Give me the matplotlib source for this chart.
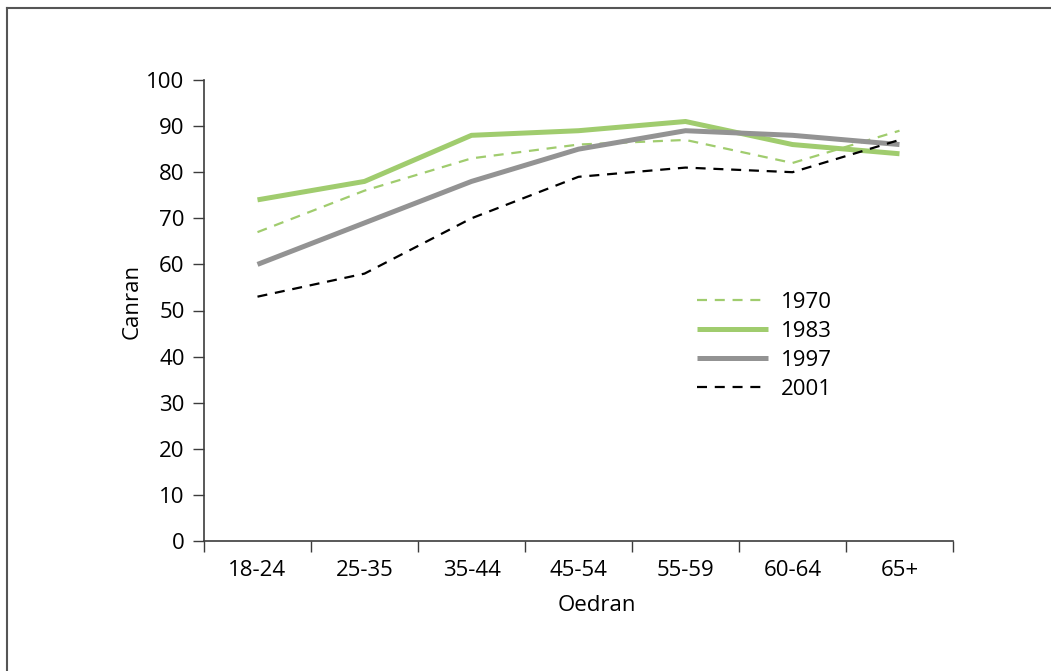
import matplotlib
matplotlib.use("Agg")
import matplotlib.pyplot as plt
from matplotlib.lines import Line2D

plt.rcParams["font.family"] = ["Open Sans", "DejaVu Sans"]

categories = ["18-24", "25-35", "35-44", "45-54", "55-59", "60-64", "65+"]
series_names = ["1970", "1983", "1997", "2001"]
values_1970 = [67, 76, 83, 86, 87, 82, 89]
values_1983 = [74, 78, 88, 89, 91, 86, 84]
values_1997 = [60, 69, 78, 85, 89, 88, 86]
values_2001 = [53, 58, 70, 79, 81, 80, 87]
y_ticks = list(range(0, 101, 10))

GREEN = "#a0cc6e"
GRAY = "#939393"
AXIS = "#3c3c3c"
FS = 16

fig = plt.figure(figsize=(10.51, 6.71), dpi=100)
ax = fig.add_axes([204 / 1051, 130 / 671, 749 / 1051, 461 / 671])

x = list(range(len(categories)))
ax.plot(x, values_1970, color=GREEN, lw=1.6, dashes=(4.5, 3.5), label=series_names[0])
ax.plot(x, values_1983, color=GREEN, lw=3.6, solid_capstyle="butt", label=series_names[1])
ax.plot(x, values_1997, color=GRAY, lw=3.6, solid_capstyle="butt", label=series_names[2])
ax.plot(x, values_2001, color="black", lw=1.6, dashes=(4.5, 3.5), label=series_names[3])

ax.set_xlim(-0.5, len(categories) - 0.5)
ax.set_ylim(0, 100)
ax.set_yticks(y_ticks)
ax.set_xticks(x)
ax.set_xticklabels(categories, fontsize=FS)
ax.set_xticks([i - 0.5 for i in range(len(categories) + 1)], minor=True)
ax.tick_params(axis="x", which="major", length=0, pad=14)
ax.tick_params(axis="x", which="minor", length=8, width=1, color=AXIS, direction="out")
ax.tick_params(axis="y", length=8, width=1, color=AXIS, direction="out", labelsize=FS, pad=6)

for side in ("top", "right"):
    ax.spines[side].set_visible(False)
for side in ("left", "bottom"):
    ax.spines[side].set_color(AXIS)
    ax.spines[side].set_linewidth(1.2)

ax.set_xlabel("Oedran", fontsize=FS)
ax.set_ylabel("Canran", fontsize=FS)
ax.xaxis.set_label_coords(0.525, -0.117)
ax.yaxis.set_label_coords(-0.082, 0.52)

ax.legend(loc="upper left", bbox_to_anchor=(0.658, 0.541), frameon=False,
          fontsize=FS, handlelength=3.2, handletextpad=0.6, labelspacing=0.37,
          borderpad=0, borderaxespad=0)

# outer frame (top and left edges only visible)
fig.add_artist(Line2D([7 / 1051, 7 / 1051], [0, 1 - 8 / 671], color="#555555", lw=1.5,
                      transform=fig.transFigure))
fig.add_artist(Line2D([7 / 1051, 1], [1 - 8 / 671, 1 - 8 / 671], color="#555555", lw=1.5,
                      transform=fig.transFigure))

fig.savefig("out.png", dpi=100)
